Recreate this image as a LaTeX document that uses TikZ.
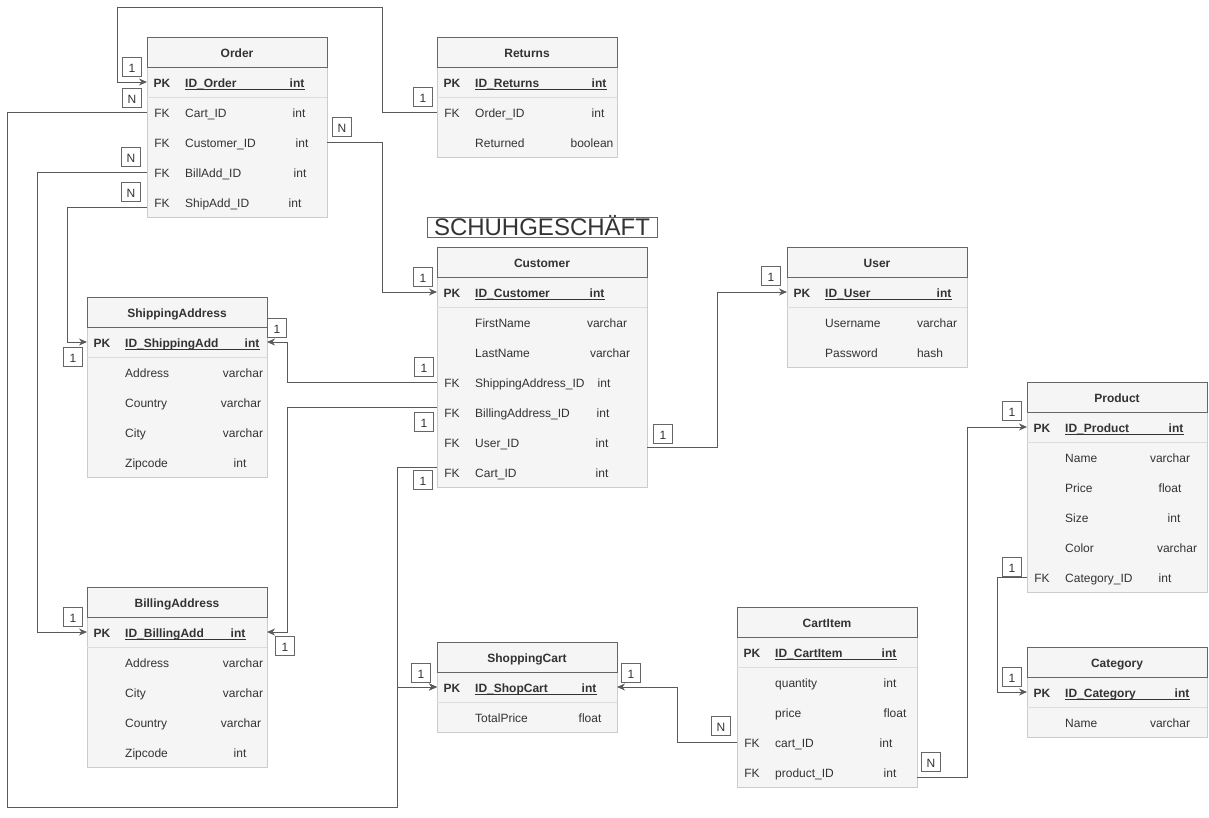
\documentclass[tikz,border=0pt]{standalone}
\usepackage{fontspec}
\setmainfont{Liberation Sans}
\usetikzlibrary{arrows.meta,calc}

\definecolor{hdrline}{HTML}{666666}
\definecolor{tabfill}{HTML}{F5F5F5}
\definecolor{bodyline}{HTML}{CCCCCC}
\definecolor{sepline}{HTML}{DDDDDD}
\definecolor{txt}{HTML}{333333}
\definecolor{linkcol}{HTML}{5A5A5A}

\begin{document}
\begin{tikzpicture}[x=1pt,y=-1pt,
    hdr/.style={draw=hdrline,fill=tabfill,minimum width=180,minimum height=30,inner sep=0,outer sep=0,text=txt,text height=10.4pt,text depth=0pt,font=\fontsize{12}{14}\selectfont\bfseries},
    body/.style={draw=bodyline,fill=tabfill},
    sep/.style={draw=sepline},
    key/.style={inner sep=0,text=txt,text height=10.4pt,text depth=0pt,font=\fontsize{12}{14}\selectfont},
    fld/.style={key,anchor=west},
    typ/.style={key},
    pk/.style={font=\fontsize{12}{14}\selectfont\bfseries},
    uline/.style={draw=txt,line width=.9},
    link/.style={draw=linkcol,line width=1,-{Stealth[length=8pt,width=7pt,inset=2.5pt]}},
    card/.style={draw=hdrline,fill=white,minimum size=19,inner sep=0,text=txt,text height=10pt,text depth=0pt,font=\fontsize{12}{14}\selectfont}]
    \useasboundingbox (0,0) rectangle (1209,817);

    %% title
    \node[draw=hdrline,minimum width=230,minimum height=20,inner sep=0,text=txt,text height=17pt,text depth=0pt,font=\fontsize{24}{24}\selectfont] (title) at (542,227) {SCHUHGESCHÄFT};

    %% Order
    \draw[body] (147,67) -- (147,217) -| (327,67);
    \node[hdr] (ord) at (237,52) {Order};
    \draw[sep] ([yshift=-30]ord.south west) -- ([yshift=-30]ord.south east);
    \node[key,pk] (oK1) at (162,82) {PK};
    \node[fld,pk] (oN1) at (185,82) {ID\_Order};
    \node[typ,pk] (oT1) at (297,82) {int};
    \draw[uline] ([yshift=-7.5]oN1.west) -- ([yshift=-7.5]oT1.east);
    \node[key] (oK2) at (162,112) {FK};
    \node[fld] (oN2) at (185,112) {Cart\_ID};
    \node[typ] (oT2) at (299,112) {int};
    \node[key] (oK3) at (162,142) {FK};
    \node[fld] (oN3) at (185,142) {Customer\_ID};
    \node[typ] (oT3) at (302,142) {int};
    \node[key] (oK4) at (162,172) {FK};
    \node[fld] (oN4) at (185,172) {BillAdd\_ID};
    \node[typ] (oT4) at (300,172) {int};
    \node[key] (oK5) at (162,202) {FK};
    \node[fld] (oN5) at (185,202) {ShipAdd\_ID};
    \node[typ] (oT5) at (295,202) {int};

    %% Returns
    \draw[body] (437,67) -- (437,157) -| (617,67);
    \node[hdr] (ret) at (527,52) {Returns};
    \draw[sep] ([yshift=-30]ret.south west) -- ([yshift=-30]ret.south east);
    \node[key,pk] (rK1) at (452,82) {PK};
    \node[fld,pk] (rN1) at (475,82) {ID\_Returns};
    \node[typ,pk] (rT1) at (599,82) {int};
    \draw[uline] ([yshift=-7.5]rN1.west) -- ([yshift=-7.5]rT1.east);
    \node[key] (rK2) at (452,112) {FK};
    \node[fld] (rN2) at (475,112) {Order\_ID};
    \node[typ] (rT2) at (598,112) {int};
    \node[fld] (rN3) at (475,142) {Returned};
    \node[typ] (rT3) at (592,142) {boolean};

    %% Customer
    \draw[body] (437,277) -- (437,487) -| (647,277);
    \node[hdr,minimum width=210] (cus) at (542,262) {Customer};
    \draw[sep] ([yshift=-30]cus.south west) -- ([yshift=-30]cus.south east);
    \node[key,pk] (cK1) at (452,292) {PK};
    \node[fld,pk] (cN1) at (475,292) {ID\_Customer};
    \node[typ,pk] (cT1) at (597,292) {int};
    \draw[uline] ([yshift=-7.5]cN1.west) -- ([yshift=-7.5]cT1.east);
    \node[fld] (cN2) at (475,322) {FirstName};
    \node[typ] (cT2) at (607,322) {varchar};
    \node[fld] (cN3) at (475,352) {LastName};
    \node[typ] (cT3) at (610,352) {varchar};
    \node[key] (cK4) at (452,382) {FK};
    \node[fld] (cN4) at (475,382) {ShippingAddress\_ID};
    \node[typ] (cT4) at (604,382) {int};
    \node[key] (cK5) at (452,412) {FK};
    \node[fld] (cN5) at (475,412) {BillingAddress\_ID};
    \node[typ] (cT5) at (603,412) {int};
    \node[key] (cK6) at (452,442) {FK};
    \node[fld] (cN6) at (475,442) {User\_ID};
    \node[typ] (cT6) at (602,442) {int};
    \node[key] (cK7) at (452,472) {FK};
    \node[fld] (cN7) at (475,472) {Cart\_ID};
    \node[typ] (cT7) at (602,472) {int};

    %% User
    \draw[body] (787,277) -- (787,367) -| (967,277);
    \node[hdr] (usr) at (877,262) {User};
    \draw[sep] ([yshift=-30]usr.south west) -- ([yshift=-30]usr.south east);
    \node[key,pk] (uK1) at (802,292) {PK};
    \node[fld,pk] (uN1) at (825,292) {ID\_User};
    \node[typ,pk] (uT1) at (944,292) {int};
    \draw[uline] ([yshift=-7.5]uN1.west) -- ([yshift=-7.5]uT1.east);
    \node[fld] (uN2) at (825,322) {Username};
    \node[typ] (uT2) at (937,322) {varchar};
    \node[fld] (uN3) at (825,352) {Password};
    \node[typ] (uT3) at (930,352) {hash};

    %% ShippingAddress
    \draw[body] (87,327) -- (87,477) -| (267,327);
    \node[hdr] (ship) at (177,312) {ShippingAddress};
    \draw[sep] ([yshift=-30]ship.south west) -- ([yshift=-30]ship.south east);
    \node[key,pk] (shK1) at (102,342) {PK};
    \node[fld,pk] (shN1) at (125,342) {ID\_ShippingAdd};
    \node[typ,pk] (shT1) at (252,342) {int};
    \draw[uline] ([yshift=-7.5]shN1.west) -- ([yshift=-7.5]shT1.east);
    \node[fld] (shN2) at (125,372) {Address};
    \node[typ] (shT2) at (243,372) {varchar};
    \node[fld] (shN3) at (125,402) {Country};
    \node[typ] (shT3) at (241,402) {varchar};
    \node[fld] (shN4) at (125,432) {City};
    \node[typ] (shT4) at (243,432) {varchar};
    \node[fld] (shN5) at (125,462) {Zipcode};
    \node[typ] (shT5) at (240,462) {int};

    %% BillingAddress
    \draw[body] (87,617) -- (87,767) -| (267,617);
    \node[hdr] (bill) at (177,602) {BillingAddress};
    \draw[sep] ([yshift=-30]bill.south west) -- ([yshift=-30]bill.south east);
    \node[key,pk] (bK1) at (102,632) {PK};
    \node[fld,pk] (bN1) at (125,632) {ID\_BillingAdd};
    \node[typ,pk] (bT1) at (238,632) {int};
    \draw[uline] ([yshift=-7.5]bN1.west) -- ([yshift=-7.5]bT1.east);
    \node[fld] (bN2) at (125,662) {Address};
    \node[typ] (bT2) at (243,662) {varchar};
    \node[fld] (bN3) at (125,692) {City};
    \node[typ] (bT3) at (243,692) {varchar};
    \node[fld] (bN4) at (125,722) {Country};
    \node[typ] (bT4) at (241,722) {varchar};
    \node[fld] (bN5) at (125,752) {Zipcode};
    \node[typ] (bT5) at (240,752) {int};

    %% Product
    \draw[body] (1027,412) -- (1027,592) -| (1207,412);
    \node[hdr] (prod) at (1117,397) {Product};
    \draw[sep] ([yshift=-30]prod.south west) -- ([yshift=-30]prod.south east);
    \node[key,pk] (pK1) at (1042,427) {PK};
    \node[fld,pk] (pN1) at (1065,427) {ID\_Product};
    \node[typ,pk] (pT1) at (1176,427) {int};
    \draw[uline] ([yshift=-7.5]pN1.west) -- ([yshift=-7.5]pT1.east);
    \node[fld] (pN2) at (1065,457) {Name};
    \node[typ] (pT2) at (1170,457) {varchar};
    \node[fld] (pN3) at (1065,487) {Price};
    \node[typ] (pT3) at (1170,487) {float};
    \node[fld] (pN4) at (1065,517) {Size};
    \node[typ] (pT4) at (1174,517) {int};
    \node[fld] (pN5) at (1065,547) {Color};
    \node[typ] (pT5) at (1177,547) {varchar};
    \node[key] (pK6) at (1042,577) {FK};
    \node[fld] (pN6) at (1065,577) {Category\_ID};
    \node[typ] (pT6) at (1165,577) {int};

    %% Category
    \draw[body] (1027,677) -- (1027,737) -| (1207,677);
    \node[hdr] (cat) at (1117,662) {Category};
    \draw[sep] ([yshift=-30]cat.south west) -- ([yshift=-30]cat.south east);
    \node[key,pk] (caK1) at (1042,692) {PK};
    \node[fld,pk] (caN1) at (1065,692) {ID\_Category};
    \node[typ,pk] (caT1) at (1182,692) {int};
    \draw[uline] ([yshift=-7.5]caN1.west) -- ([yshift=-7.5]caT1.east);
    \node[fld] (caN2) at (1065,722) {Name};
    \node[typ] (caT2) at (1170,722) {varchar};

    %% CartItem
    \draw[body] (737,637) -- (737,787) -| (917,637);
    \node[hdr] (cit) at (827,622) {CartItem};
    \draw[sep] ([yshift=-30]cit.south west) -- ([yshift=-30]cit.south east);
    \node[key,pk] (ciK1) at (752,652) {PK};
    \node[fld,pk] (ciN1) at (775,652) {ID\_CartItem};
    \node[typ,pk] (ciT1) at (889,652) {int};
    \draw[uline] ([yshift=-7.5]ciN1.west) -- ([yshift=-7.5]ciT1.east);
    \node[fld] (ciN2) at (775,682) {quantity};
    \node[typ] (ciT2) at (890,682) {int};
    \node[fld] (ciN3) at (775,712) {price};
    \node[typ] (ciT3) at (895,712) {float};
    \node[key] (ciK4) at (752,742) {FK};
    \node[fld] (ciN4) at (775,742) {cart\_ID};
    \node[typ] (ciT4) at (886,742) {int};
    \node[key] (ciK5) at (752,772) {FK};
    \node[fld] (ciN5) at (775,772) {product\_ID};
    \node[typ] (ciT5) at (890,772) {int};

    %% ShoppingCart
    \draw[body] (437,672) -- (437,732) -| (617,672);
    \node[hdr] (shop) at (527,657) {ShoppingCart};
    \draw[sep] ([yshift=-30]shop.south west) -- ([yshift=-30]shop.south east);
    \node[key,pk] (sK1) at (452,687) {PK};
    \node[fld,pk] (sN1) at (475,687) {ID\_ShopCart};
    \node[typ,pk] (sT1) at (589,687) {int};
    \draw[uline] ([yshift=-7.5]sN1.west) -- ([yshift=-7.5]sT1.east);
    \node[fld] (sN2) at (475,717) {TotalPrice};
    \node[typ] (sT2) at (590,717) {float};

    %% relations
    \draw[link] (rK2 -| ret.west) -| (382,7) -| (117,82) -- (oK1 -| ord.west);
    \draw[link] (oK2 -| ord.west) -| (7,807) -| (397,687) -- (sK1 -| shop.west);
    \draw[link] ($(cK7 -| cus.west)+(0,-5)$) -| (397,687) -- (sK1 -| shop.west);
    \draw[link] (oK3 -| ord.east) -| (382,292) -- (cK1 -| cus.west);
    \draw[link] (oK4 -| ord.west) -| (37,632) -- (bK1 -| bill.west);
    \draw[link] ($(oK5 -| ord.west)+(0,5)$) -| (67,342) -- (shK1 -| ship.west);
    \draw[link] (cK4 -| cus.west) -| (287,342) -- (shK1 -| ship.east);
    \draw[link] ($(cK5 -| cus.west)+(0,-5)$) -| (287,632) -- (bK1 -| bill.east);
    \draw[link] ($(cK6 -| cus.east)+(0,5)$) -| (717,292) -- (uK1 -| usr.west);
    \draw[link] (ciK4 -| cit.west) -| (677,687) -- (sK1 -| shop.east);
    \draw[link] ($(ciK5 -| cit.east)+(0,5)$) -| (967,427) -- (pK1 -| prod.west);
    \draw[link] (pK6 -| prod.west) -| (997,692) -- (caK1 -| cat.west);

    %% cardinalities
    \node[card] (m1) at (423,97) {1};
    \node[card] (m2) at (132,67) {1};
    \node[card] (m3) at (132,98) {N};
    \node[card] (m4) at (342,127) {N};
    \node[card] (m5) at (131,157) {N};
    \node[card] (m6) at (131,192) {N};
    \node[card] (m7) at (423,277) {1};
    \node[card] (m8) at (73,617) {1};
    \node[card] (m9) at (73,357) {1};
    \node[card] (m10) at (277,328) {1};
    \node[card] (m11) at (424,367) {1};
    \node[card] (m12) at (424,422) {1};
    \node[card] (m13) at (285,646) {1};
    \node[card] (m14) at (423,480) {1};
    \node[card] (m15) at (421,673) {1};
    \node[card] (m16) at (663,434) {1};
    \node[card] (m17) at (771,276) {1};
    \node[card] (m18) at (631,673) {1};
    \node[card] (m19) at (721,726) {N};
    \node[card] (m20) at (931,762) {N};
    \node[card] (m21) at (1012,411) {1};
    \node[card] (m22) at (1012,567) {1};
    \node[card] (m23) at (1012,677) {1};
\end{tikzpicture}
\end{document}
